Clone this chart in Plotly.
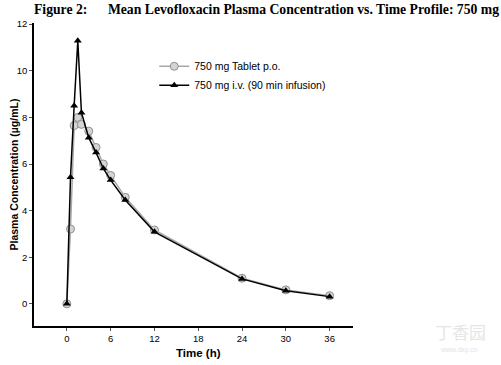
import plotly.graph_objects as go

time_iv = [0, 0.5, 1, 1.5, 2, 3, 4, 5, 6, 8, 12, 24, 30, 36]
conc_iv = [0, 5.43, 8.5, 11.29, 8.2, 7.13, 6.49, 5.81, 5.31, 4.46, 3.09, 1.07, 0.56, 0.31]

time_po = [0, 0.5, 1, 1.5, 2, 3, 4, 5, 6, 8, 12, 24, 30, 36]
conc_po = [0, 3.21, 7.65, 8.0, 7.7, 7.41, 6.71, 6.0, 5.51, 4.57, 3.17, 1.1, 0.6, 0.35]

x_ticks = [0, 6, 12, 18, 24, 30, 36]
y_ticks = [0, 2, 4, 6, 8, 10, 12]

name_po = "750 mg Tablet p.o."
name_iv = "750 mg i.v. (90 min infusion)"

fig = go.Figure()
fig.add_trace(go.Scatter(
    x=time_po, y=conc_po, name=name_po, mode="lines+markers",
    line=dict(color="#a8a8a8", width=1.5),
    marker=dict(symbol="circle", size=8, color="#d4d4d4",
                line=dict(color="#909090", width=1)),
))
fig.add_trace(go.Scatter(
    x=time_iv, y=conc_iv, name=name_iv, mode="lines+markers",
    line=dict(color="#000000", width=1.5),
    marker=dict(symbol="triangle-up", size=7, color="#000000"),
))

L, R, T, B = 34, 148, 23, 39
W, H = 501, 365
pw, ph = W - L - R, H - T - B

fig.update_layout(
    width=W, height=H,
    paper_bgcolor="white", plot_bgcolor="white",
    margin=dict(l=L, r=R, t=T, b=B, autoexpand=False),
    font=dict(family="Liberation Sans, Arial, sans-serif", color="#000000"),
    showlegend=True,
    legend=dict(x=0.377, y=0.905, xanchor="left", yanchor="top",
                bgcolor="rgba(0,0,0,0)", font=dict(size=10.5),
                tracegroupgap=0, itemwidth=30),
    annotations=[
        dict(text="<b>Figure 2:      Mean Levofloxacin Plasma Concentration vs. Time Profile: 750 mg</b>",
             xref="paper", yref="paper", x=0, y=1.0, xanchor="left", yanchor="bottom",
             xshift=-2, yshift=4, showarrow=False,
             font=dict(family="Liberation Serif, Times New Roman, serif", size=13.7)),
        dict(text="<b>Time (h)</b>", xref="paper", yref="paper",
             x=(198 - L) / pw, y=0, xanchor="center", yanchor="middle",
             yshift=-27, showarrow=False, font=dict(size=11.5)),
        dict(text="<b>Plasma Concentration (µg/mL)</b>", xref="paper", yref="paper",
             x=0, y=0.5, xanchor="center", yanchor="middle", textangle=-90,
             xshift=-21, showarrow=False, font=dict(size=10.5)),
        dict(text="丁香园", xref="paper", yref="paper",
             x=(460 - L) / pw, y=(H - B - 331) / ph, xanchor="center", yanchor="middle",
             showarrow=False,
             font=dict(family="Noto Sans CJK SC", size=17, color="#e6e6e6")),
        dict(text="www.dxy.cn", xref="paper", yref="paper",
             x=(459 - L) / pw, y=(H - B - 350) / ph, xanchor="center", yanchor="middle",
             showarrow=False,
             font=dict(size=7, color="#e3e3e3")),
    ],
)
fig.update_xaxes(
    range=[-4.5, 39.2], tickvals=x_ticks, ticktext=[str(v) for v in x_ticks],
    showline=True, linecolor="#000000", linewidth=1.5, showgrid=False, zeroline=False,
    ticks="outside", ticklen=3, tickcolor="#555555", tickfont=dict(size=9.5),
    automargin=False,
)
fig.update_yaxes(
    range=[-0.95, 12.05], tickvals=y_ticks, ticktext=[str(v) for v in y_ticks],
    showline=True, linecolor="#000000", linewidth=1.5, showgrid=False, zeroline=False,
    ticks="outside", ticklen=3, tickcolor="#555555", tickfont=dict(size=9.5),
    automargin=False,
)

fig.write_html("out.html", config={"displayModeBar": False},
               post_script="document.body.style.margin='0';document.body.style.overflow='hidden';")
